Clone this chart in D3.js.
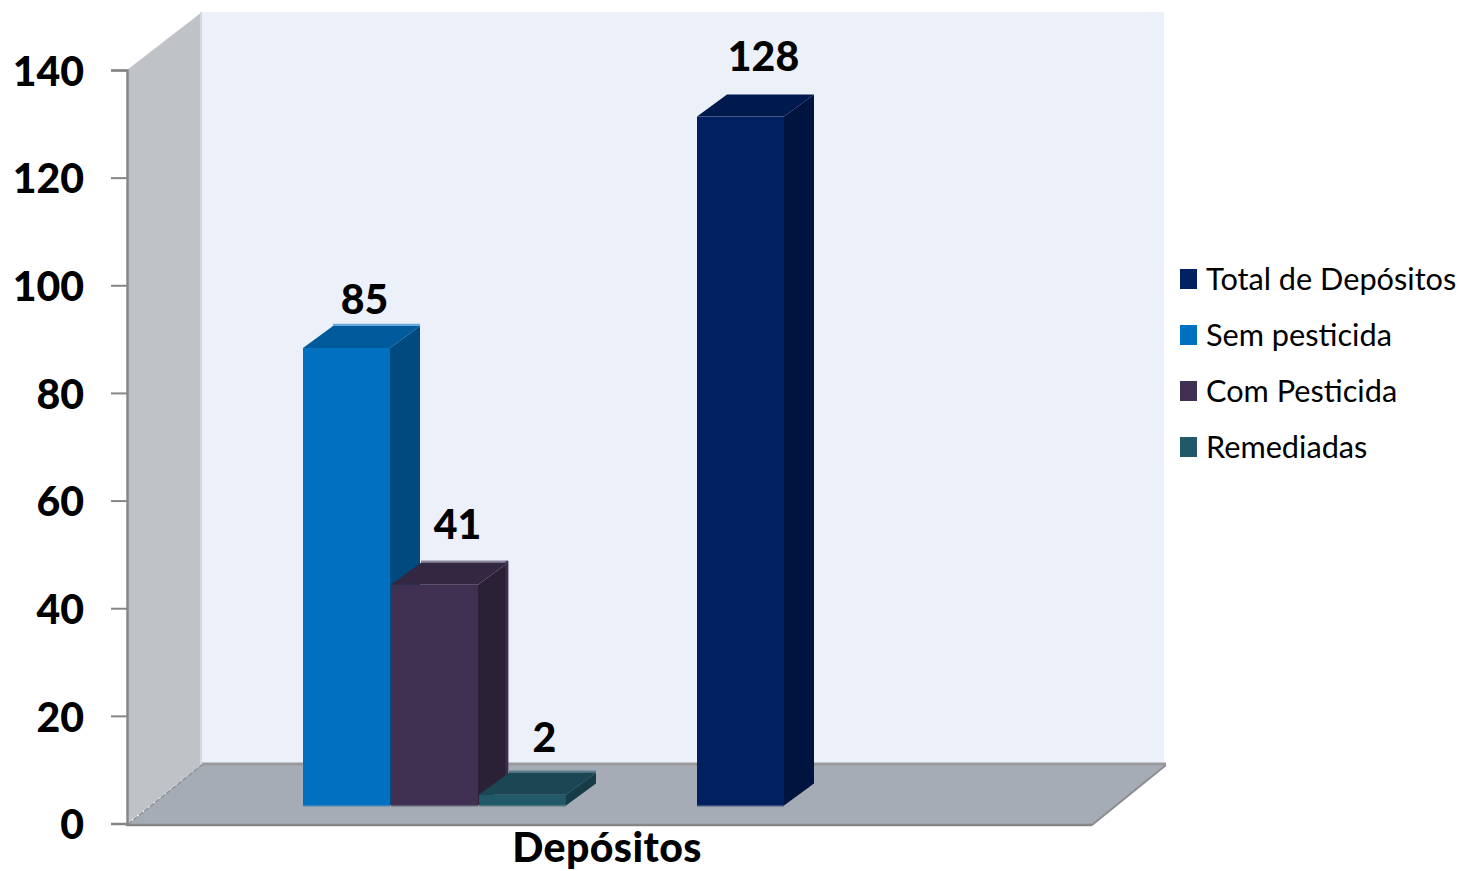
<!DOCTYPE html>
<html><head><meta charset="utf-8">
<script src="https://cdn.jsdelivr.net/npm/d3@7/dist/d3.min.js"></script>
<style>html,body{margin:0;padding:0;background:#fff}svg{display:block}text{font-family:Lato,"Open Sans",sans-serif}</style>
</head><body><svg id="c" width="1461" height="871"></svg>
<script>
const seriesNames = ["Total de Depósitos","Sem pesticida","Com Pesticida","Remediadas"];
const seriesValues = [128,85,41,2];
const frontColors = ["#002060","#0070C0","#403152","#215968"];
const topColors = ["#001A4F","#005A9C","#332741","#1A4753"];
const sideColors = ["#001440","#004A80","#2A2136","#153C47"];
const yTicks = [0,20,40,60,80,100,120,140];
const categoryLabel = "Depósitos";

const svg = d3.select("#c");
const y = d3.scaleLinear().domain([0,140]).range([823.5,70]);
const x = d3.scaleOrdinal().domain(seriesNames).range([697,303,391,479]);
const barW = 87, depthX = 30, depthY = 22, baseLift = 18;
const labelDX = d3.scaleOrdinal().domain(seriesNames).range([23,18,23,22]);
const labelGap = d3.scaleOrdinal().domain(seriesNames).range([24,12,24,21]);

const p = pts => pts.map(a=>a.join(",")).join(" ");
svg.append("polygon").attr("points",p([[202,12],[1164,12],[1164,764],[202,764]])).attr("fill","#ECF1F9");
svg.append("polygon").attr("points",p([[127,y(140)],[202,12],[202,764],[127,y(0)]])).attr("fill","#BFC2C7");
svg.append("line").attr("x1",201).attr("x2",201).attr("y1",12).attr("y2",764).attr("stroke","#D5D8DC").attr("stroke-width",2);
svg.append("polygon").attr("points",p([[127,825],[202,764],[1166,764],[1092,825]])).attr("fill","#A6ACB5");
svg.append("line").attr("x1",202).attr("x2",1166).attr("y1",764).attr("y2",764).attr("stroke","#999A9E").attr("stroke-width",3);
svg.append("line").attr("x1",128).attr("x2",202).attr("y1",824).attr("y2",765).attr("stroke","#8E9196").attr("stroke-width",1.5).attr("stroke-dasharray","5 2");
svg.append("line").attr("x1",1092).attr("x2",1166).attr("y1",825).attr("y2",765).attr("stroke","#8A8C90").attr("stroke-width",2);

const drawOrder = ["Sem pesticida","Com Pesticida","Remediadas","Total de Depósitos"];
const labels = svg.append("g");
drawOrder.forEach(n=>{
  const i = seriesNames.indexOf(n), v = seriesValues[i];
  const x0 = x(n), x1 = x0+barW, yt = y(v)-baseLift, yb = y(0)-baseLift;
  const g = svg.append("g");
  g.append("polygon").attr("points",p([[x1,yt],[x1+depthX,yt-depthY],[x1+depthX,yb-depthY],[x1,yb]])).attr("fill",sideColors[i]);
  g.append("polygon").attr("points",p([[x0,yt],[x0+depthX,yt-depthY],[x1+depthX,yt-depthY],[x1,yt]])).attr("fill",topColors[i]);
  g.append("rect").attr("x",x0).attr("y",yt).attr("width",barW).attr("height",yb-yt).attr("fill",frontColors[i]);
  if (n!=="Total de Depósitos")
    g.append("line").attr("x1",x0+depthX).attr("x2",x1+depthX).attr("y1",yt-depthY-1).attr("y2",yt-depthY-1).attr("stroke",frontColors[i]).attr("stroke-opacity",.55).attr("stroke-width",2.5);
  if (n==="Com Pesticida")
    g.append("line").attr("x1",x1+depthX-1).attr("x2",x1+depthX-1).attr("y1",yt-depthY-2).attr("y2",yb-depthY).attr("stroke",frontColors[i]).attr("stroke-opacity",.8).attr("stroke-width",3);
  g.append("line").attr("x1",x0).attr("x2",x1).attr("y1",yb+.5).attr("y2",yb+.5).attr("stroke",frontColors[i]).attr("stroke-opacity",.6);
  labels.raise();
  labels.append("text").attr("x",x0+barW/2+labelDX(n)).attr("y",yt-depthY-labelGap(n)).attr("text-anchor","middle")
    .attr("font-size",41).attr("font-weight",900).attr("fill","#000").text(v);
});

const axis = d3.axisLeft(y).tickValues(yTicks).tickSize(16).tickPadding(27);
const ag = svg.append("g").attr("transform","translate(127,0)").call(axis);
ag.select(".domain").attr("stroke","#868686").attr("stroke-width",2.5);
ag.selectAll(".tick line").attr("stroke","#868686").attr("stroke-width",2);
ag.selectAll(".tick text").attr("font-size",41).attr("font-weight",900).attr("fill","#000").attr("font-family","Lato").attr("dy","0.37em");
svg.append("line").attr("x1",126).attr("x2",1092).attr("y1",825).attr("y2",825).attr("stroke","#868686").attr("stroke-width",2.5);

svg.append("text").attr("x",607).attr("y",862).attr("text-anchor","middle").attr("font-size",41).attr("font-weight",900).attr("letter-spacing",0.4).attr("fill","#000").text(categoryLabel);

const ly = d3.scalePoint().domain(seriesNames).range([279,447]);
const lg = svg.append("g").selectAll("g").data(seriesNames).join("g").attr("transform",d=>`translate(0,${ly(d)})`);
lg.append("rect").attr("x",1180).attr("y",-10).attr("width",17).attr("height",20).attr("fill",(d,i)=>frontColors[i]);
lg.append("text").attr("x",1206).attr("y",11).attr("font-size",30.7).attr("fill","#000").text(d=>d);
</script></body></html>
